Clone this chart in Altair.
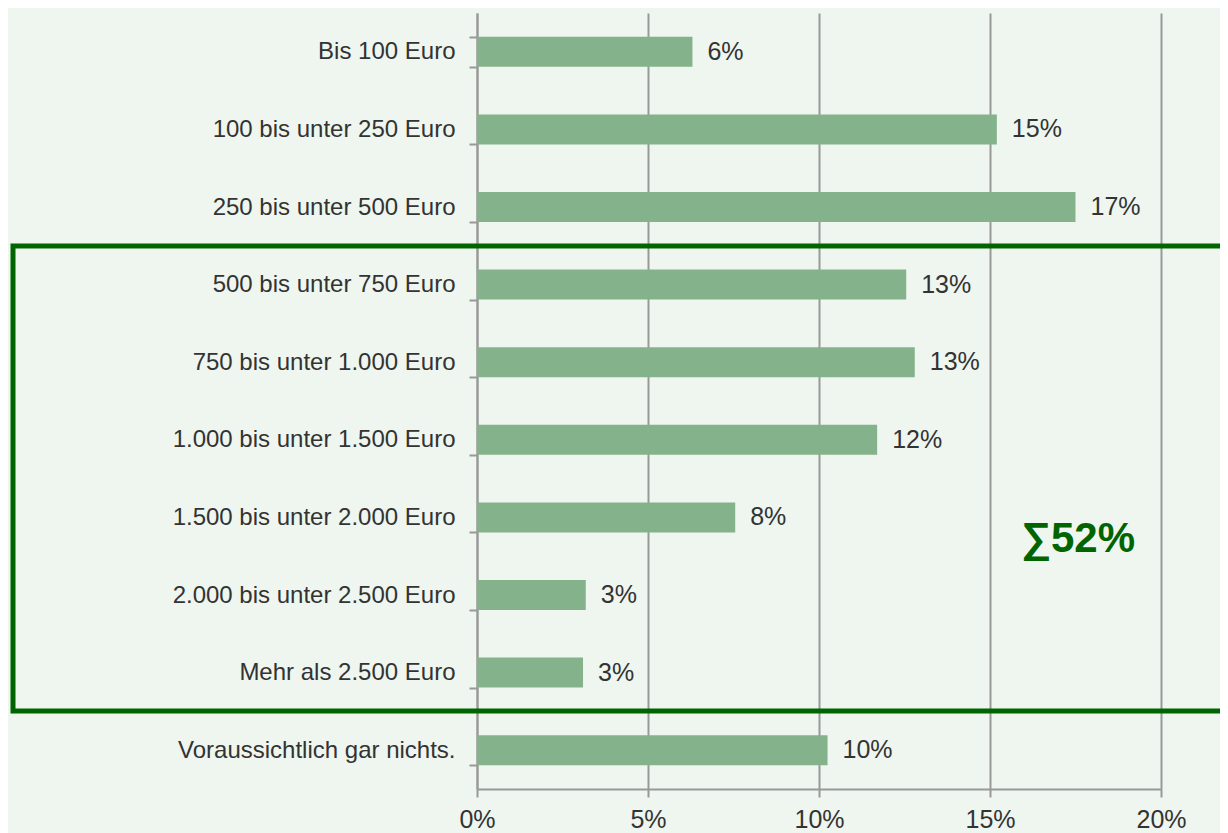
import altair as alt
import pandas as pd

categories = [
    "Bis 100 Euro",
    "100 bis unter 250 Euro",
    "250 bis unter 500 Euro",
    "500 bis unter 750 Euro",
    "750 bis unter 1.000 Euro",
    "1.000 bis unter 1.500 Euro",
    "1.500 bis unter 2.000 Euro",
    "2.000 bis unter 2.500 Euro",
    "Mehr als 2.500 Euro",
    "Voraussichtlich gar nichts.",
]
values = [0.063, 0.152, 0.175, 0.1255, 0.128, 0.117, 0.0755, 0.0318, 0.031, 0.1025]
labels = ["6%", "15%", "17%", "13%", "13%", "12%", "8%", "3%", "3%", "10%"]
x_ticks = [0, 0.05, 0.10, 0.15, 0.20]
sum_label = "∑52%"

df = pd.DataFrame({"cat": categories, "val": values, "lab": labels})

FONT = "Liberation Sans"
BAR = "#84B38B"
BG = "#EEF6EF"
GREEN = "#006400"
GRAY = "#999999"
TXT = "#333333"

y_enc = alt.Y(
    "cat:N",
    sort=categories,
    title=None,
    scale=alt.Scale(paddingInner=0.613, paddingOuter=0.3065),
    axis=alt.Axis(
        domainColor=GRAY, domainWidth=2, tickColor=GRAY, tickWidth=2, tickSize=8,
        tickBand="extent", labelFontSize=24, labelColor=TXT, labelFont=FONT,
        labelPadding=14, labelLimit=400,
    ),
)
x_enc = alt.X(
    "val:Q",
    title=None,
    scale=alt.Scale(domain=[0, 0.2], nice=False),
    axis=alt.Axis(
        values=x_ticks, format=".0%", grid=True, gridColor=GRAY, gridWidth=2,
        domainColor=GRAY, domainWidth=2, tickColor=GRAY, tickWidth=2, tickSize=8,
        labelFontSize=25, labelColor=TXT, labelFont=FONT, labelPadding=10,
        labelFlush=False,
    ),
)

bars = alt.Chart(df).mark_bar(color=BAR).encode(x=x_enc, y=y_enc)
texts = alt.Chart(df).mark_text(
    align="left", baseline="middle", dx=15, fontSize=25, font=FONT, color=TXT
).encode(x="val:Q", y=alt.Y("cat:N", sort=categories), text="lab:N")

box = alt.Chart(pd.DataFrame({"a": [0]})).mark_rect(
    fill=None, stroke=GREEN, strokeWidth=5, clip=False
).encode(
    x=alt.value(-464), x2=alt.value(760), y=alt.value(233), y2=alt.value(698)
)

sum_text = alt.Chart(pd.DataFrame({"t": [sum_label]})).mark_text(
    align="left", baseline="alphabetic", fontSize=42, fontWeight="bold",
    font=FONT, color=GREEN
).encode(x=alt.value(544), y=alt.value(539), text="t:N")

chart = alt.layer(bars, texts, box, sum_text).properties(
    width=684, height=776,
    autosize=alt.AutoSizeParams(type="none"),
    padding={"left": 469, "top": 5, "right": 59, "bottom": 44},
    background=BG,
).configure_view(stroke=None)

chart.save("out.html", embed_options={"renderer": "svg", "actions": False})
